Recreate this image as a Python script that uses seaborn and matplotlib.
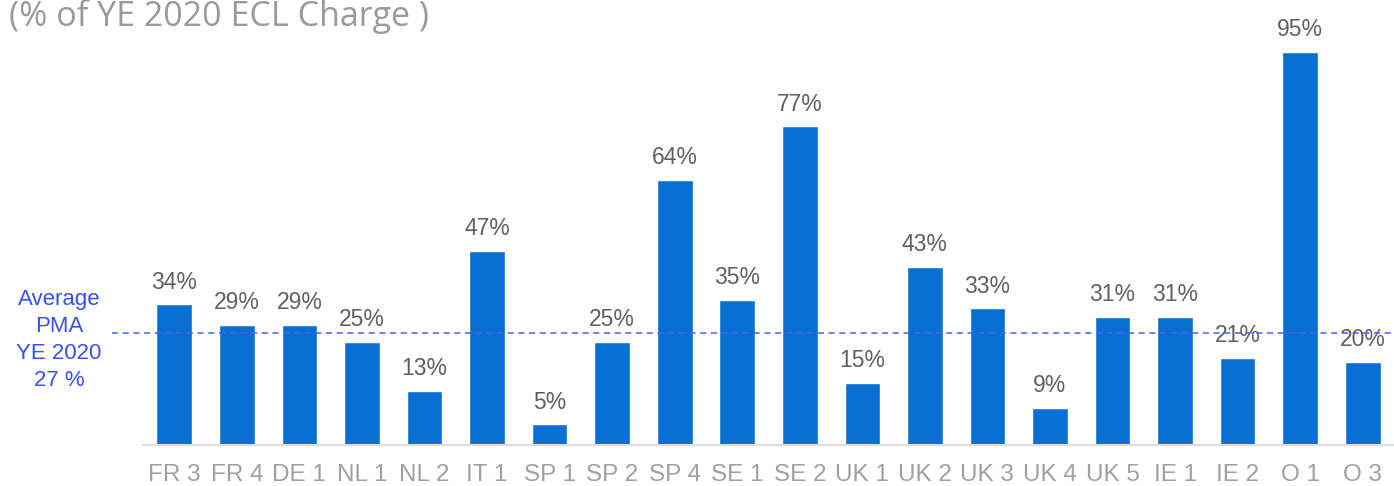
import matplotlib
matplotlib.use("Agg")
import matplotlib.pyplot as plt
import seaborn as sns
import pandas as pd

categories = ["FR 3", "FR 4", "DE 1", "NL 1", "NL 2", "IT 1", "SP 1", "SP 2", "SP 4", "SE 1",
              "SE 2", "UK 1", "UK 2", "UK 3", "UK 4", "UK 5", "IE 1", "IE 2", "O 1", "O 3"]
values = [34, 29, 29, 25, 13, 47, 5, 25, 64, 35, 77, 15, 43, 33, 9, 31, 31, 21, 95, 20]
average = 27
title = "(% of YE 2020 ECL Charge )"
avg_label = "Average\nPMA\nYE 2020\n27 %"

df = pd.DataFrame({"cat": categories, "val": values})

sns.set_theme(style="white")
plt.rcParams["font.family"] = ["Liberation Sans", "DejaVu Sans"]

fig = plt.figure(figsize=(13.94, 4.86), dpi=100)
ax = fig.add_axes([0.1026, 0.0844, 0.8974, 0.8512])

sns.barplot(data=df, x="cat", y="val", color="#0870d2", saturation=1, width=0.57, ax=ax)

ax.set_xlim(-0.5, 19.5)
ax.set_ylim(0, 100)
for s in ["top", "right", "left"]:
    ax.spines[s].set_visible(False)
ax.spines["bottom"].set_color("#dedede")
ax.spines["bottom"].set_linewidth(1.5)
ax.set_yticks([])
ax.set_xlabel("")
ax.set_ylabel("")
ax.tick_params(axis="x", length=0, labelsize=17.5, labelcolor="#a0a0a0", pad=14)

for i, v in enumerate(values):
    ax.text(i, v + 2.6, f"{v}%", ha="center", va="bottom", fontsize=16.5, color="#606060")

ax.axhline(average, xmin=-0.025, xmax=1, color="#4f5ff0", linestyle=(0, (4, 3)),
           linewidth=1.1, clip_on=False, zorder=3)

fig.text(59 / 1394, 1 - 340 / 486, avg_label, ha="center", va="center", fontsize=16,
         color="#3a4ff0", linespacing=1.38)

fig.text(9 / 1394, 1 - 17 / 486, title, ha="left", va="center", fontsize=24.5,
         color="#9a9a9a", family=["Open Sans", "DejaVu Sans"])

fig.savefig("out.png", dpi=100)
